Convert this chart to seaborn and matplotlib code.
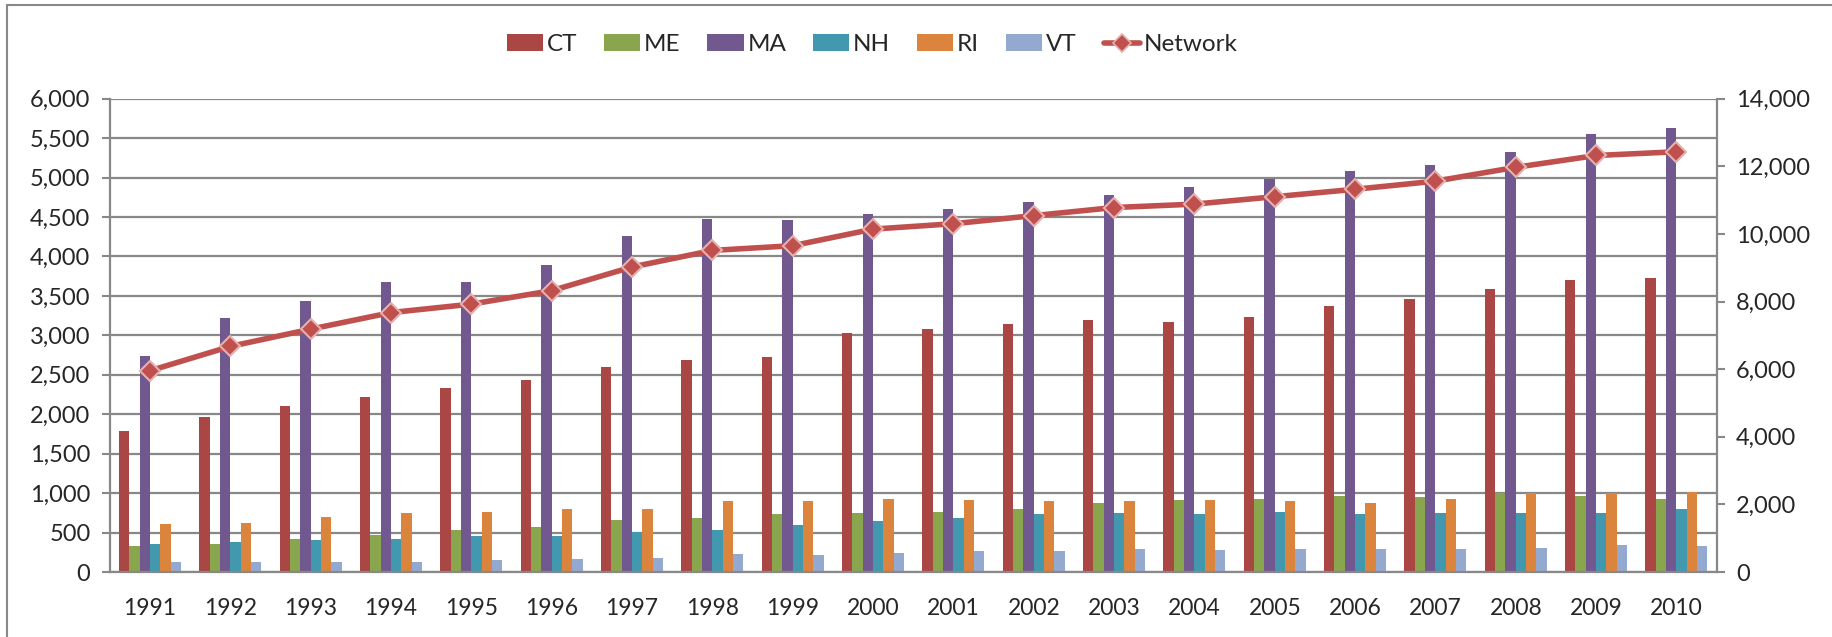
import numpy as np
import pandas as pd
import matplotlib
matplotlib.use("Agg")
import matplotlib.pyplot as plt
from matplotlib.lines import Line2D
from matplotlib.patches import Patch
from matplotlib.ticker import FuncFormatter, MultipleLocator, FixedLocator
import seaborn as sns

# values
years = [1991, 1992, 1993, 1994, 1995, 1996, 1997, 1998, 1999, 2000,
         2001, 2002, 2003, 2004, 2005, 2006, 2007, 2008, 2009, 2010]
ct = [1785, 1969, 2106, 2213, 2328, 2440, 2604, 2692, 2722, 3030,
      3082, 3142, 3193, 3167, 3236, 3373, 3463, 3591, 3702, 3724]
me = [325, 360, 424, 475, 539, 569, 655, 689, 732, 753,
      766, 805, 869, 916, 929, 959, 946, 1006, 963, 924]
ma = [2739, 3223, 3433, 3677, 3677, 3895, 4263, 4473, 4468, 4533,
      4597, 4695, 4781, 4875, 4978, 5089, 5166, 5320, 5555, 5624]
nh = [360, 377, 402, 424, 462, 454, 505, 535, 599, 646,
      685, 732, 753, 732, 762, 732, 753, 749, 745, 805]
ri = [612, 625, 693, 753, 766, 800, 805, 899, 903, 920,
      912, 895, 903, 912, 903, 877, 924, 1002, 1006, 1019]
vt = [133, 133, 124, 133, 158, 171, 184, 223, 218, 244,
      270, 270, 287, 278, 295, 295, 295, 304, 342, 330]
network = [5956, 6675, 7185, 7675, 7925, 8324, 9024, 9513, 9653, 10143,
           10303, 10543, 10782, 10882, 11102, 11322, 11562, 11972, 12321, 12431]

states = ["CT", "ME", "MA", "NH", "RI", "VT"]
colors = ["#AA4643", "#89A54E", "#71588F", "#4198AF", "#DB843D", "#93A9CF"]
line_color = "#C0504D"
grid_color = "#888888"

df = pd.DataFrame({"year": years, "CT": ct, "ME": me, "MA": ma,
                   "NH": nh, "RI": ri, "VT": vt})
long_df = df.melt(id_vars="year", var_name="state", value_name="value")

sns.set_style("white")
plt.rcParams["font.family"] = ["Lato", "DejaVu Sans"]

fig, ax = plt.subplots(figsize=(18.32, 6.37), dpi=100)
fig.subplots_adjust(left=0.060, right=0.937, top=0.845, bottom=0.102)

sns.barplot(data=long_df, x="year", y="value", hue="state", hue_order=states,
            palette=colors, width=0.77, gap=0, linewidth=0, saturation=1,
            legend=False, ax=ax)

ax.set_ylim(0, 6000)
ax.yaxis.set_major_locator(MultipleLocator(500))
ax.yaxis.set_major_formatter(FuncFormatter(lambda v, _: f"{v:,.0f}"))
ax.grid(axis="y", color=grid_color, linewidth=1.6)
ax.set_axisbelow(True)
ax.set_xlabel("")
ax.set_ylabel("")

ax2 = ax.twinx()
sns.lineplot(x=np.arange(len(years)), y=network, ax=ax2, color=line_color,
             linewidth=4.0, marker="D", markersize=10,
             markerfacecolor=line_color, markeredgecolor="#E6B0AE",
             markeredgewidth=1.5, zorder=5)
ax2.set_ylim(0, 14000)
ax2.yaxis.set_major_locator(MultipleLocator(2000))
ax2.yaxis.set_major_formatter(FuncFormatter(lambda v, _: f"{v:,.0f}"))
ax2.set_ylabel("")

ax.set_xlim(-0.5, len(years) - 0.5)
ax.xaxis.set_minor_locator(FixedLocator(np.arange(-0.5, len(years), 1.0)))
ax.tick_params(axis="x", which="major", length=0, labelsize=16.5, pad=19)
ax.tick_params(axis="x", which="minor", length=7, width=1.5, color=grid_color,
               direction="out")
ax.tick_params(axis="y", length=6, width=1.5, color=grid_color,
               direction="out", labelsize=17, pad=8)
ax2.tick_params(axis="y", length=6, width=1.5, color=grid_color,
                direction="out", labelsize=17, pad=8)

for a in (ax, ax2):
    for side in ("top", "bottom", "left", "right"):
        a.spines[side].set_visible(False)
ax.spines["left"].set_visible(True)
ax.spines["bottom"].set_visible(True)
ax2.spines["right"].set_visible(True)
for sp in (ax.spines["left"], ax.spines["bottom"], ax2.spines["right"]):
    sp.set_color(grid_color)
    sp.set_linewidth(1.6)

handles = [Patch(facecolor=c, edgecolor="none") for c in colors]
handles.append(Line2D([], [], color=line_color, linewidth=4.0, marker="D",
                      markersize=9, markerfacecolor=line_color,
                      markeredgecolor="#E6B0AE", markeredgewidth=1.2))
fig.legend(handles, states + ["Network"], loc="center",
           bbox_to_anchor=(0.476, 0.93), ncol=7, frameon=False,
           fontsize=17.5, handlelength=1.5, handleheight=0.7,
           handletextpad=0.15, columnspacing=1.1)

# outer chart frame (top and left edge visible in the crop)
fig.add_artist(Line2D([0.004, 1.0], [0.992, 0.992], transform=fig.transFigure,
                      color=grid_color, linewidth=1.5))
fig.add_artist(Line2D([0.004, 0.004], [0.0, 0.992], transform=fig.transFigure,
                      color=grid_color, linewidth=1.5))

fig.savefig("out.png", dpi=100)
plt.close(fig)
